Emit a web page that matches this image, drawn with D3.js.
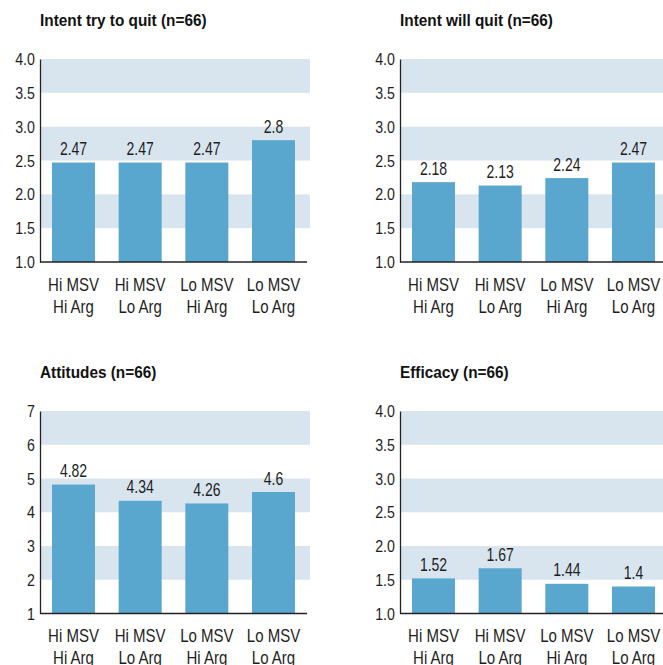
<!DOCTYPE html>
<html>
<head>
<meta charset="utf-8">
<script src="https://cdn.jsdelivr.net/npm/d3@7/dist/d3.min.js"></script>
<style>
  html, body { margin: 0; padding: 0; background: #fff; }
  svg { display: block; }
  text { font-family: "Liberation Sans", Arial, sans-serif; fill: #1e1e1e; }
  .title { font-weight: bold; font-size: 16.5px; fill: #111; }
</style>
</head>
<body>
<svg id="chart" width="663" height="665"></svg>
<script>
// Group labels (two lines each)
const groups = ["Hi MSV|Hi Arg", "Hi MSV|Lo Arg", "Lo MSV|Hi Arg", "Lo MSV|Lo Arg"];

// Panel titles
const titles = ["Intent try to quit (n=66)", "Intent will quit (n=66)", "Attitudes (n=66)", "Efficacy (n=66)"];

// Mean scores per group
const intentTry = [2.47, 2.47, 2.47, 2.8];
const intentWill = [2.18, 2.13, 2.24, 2.47];
const attitudes = [4.82, 4.34, 4.26, 4.6];
const efficacy = [1.52, 1.67, 1.44, 1.4];

// Axis ticks
const ticks4 = [1.0, 1.5, 2.0, 2.5, 3.0, 3.5, 4.0];
const ticks7 = [1, 2, 3, 4, 5, 6, 7];

// Shaded bands [from, to]
const bands4 = [[1.5, 2.0], [2.5, 3.0], [3.5, 4.0]];
const bands7 = [[2, 3], [4, 5], [6, 7]];

const panels = [
  { title: titles[0], values: intentTry, ticks: ticks4, bands: bands4, domain: [1, 4], fmt: ".1f", x0: 40, top: 59, bottom: 262, titleY: 26 },
  { title: titles[1], values: intentWill, ticks: ticks4, bands: bands4, domain: [1, 4], fmt: ".1f", x0: 400, top: 59, bottom: 262, titleY: 26 },
  { title: titles[2], values: attitudes, ticks: ticks7, bands: bands7, domain: [1, 7], fmt: "d", x0: 40, top: 411, bottom: 613.5, titleY: 378 },
  { title: titles[3], values: efficacy, ticks: ticks4, bands: bands4, domain: [1, 4], fmt: ".1f", x0: 400, top: 411, bottom: 613.5, titleY: 378 }
];

const svg = d3.select("#chart");
const barColor = "#59a6ce";
const bandColor = "#d8e4ee";
const plotW = 267;

// Condensed text: horizontal squeeze around the anchor point
function condensed(sel, x, y, sx) {
  return sel.attr("x", 0).attr("y", 0).attr("transform", `translate(${x},${y}) scale(${sx},1)`);
}

panels.forEach(p => {
  const g = svg.append("g");
  const x = d3.scaleBand().domain(groups).range([p.x0, p.x0 + plotW]).paddingInner(0.355).paddingOuter(0.18);
  const y = d3.scaleLinear().domain(p.domain).range([p.bottom, p.top]);

  // Title
  condensed(g.append("text").attr("class", "title").text(p.title), p.x0, p.titleY, 0.93);

  // Background bands
  g.selectAll("rect.band").data(p.bands).join("rect")
    .attr("class", "band")
    .attr("x", p.x0 + 1)
    .attr("width", plotW + 2)
    .attr("y", d => y(d[1]))
    .attr("height", d => y(d[0]) - y(d[1]))
    .attr("fill", bandColor);

  // Bars
  g.selectAll("rect.bar").data(p.values).join("rect")
    .attr("class", "bar")
    .attr("x", (d, i) => x(groups[i]))
    .attr("width", x.bandwidth())
    .attr("y", d => y(d))
    .attr("height", d => y(p.domain[0]) - y(d))
    .attr("fill", barColor);

  // Value labels
  p.values.forEach((d, i) => {
    const t = g.append("text")
      .attr("text-anchor", "middle")
      .style("font-size", "17.5px")
      .text(String(d));
    condensed(t, x(groups[i]) + x.bandwidth() / 2, y(d) - 7.5, 0.8);
  });

  // Y axis
  const yAxis = d3.axisLeft(y).tickValues(p.ticks).tickFormat(d3.format(p.fmt)).tickSize(0).tickPadding(6);
  const ya = g.append("g").attr("transform", `translate(${p.x0},0)`).call(yAxis);
  ya.attr("font-family", null).attr("font-size", null);
  ya.select(".domain").attr("stroke", "#222").attr("stroke-width", 1.3);
  ya.selectAll(".tick text")
    .style("font-size", "16.5px")
    .attr("fill", "#1e1e1e")
    .attr("dy", "0.34em")
    .attr("transform", "scale(0.86,1)");

  // Baseline
  g.append("line")
    .attr("x1", p.x0).attr("x2", p.x0 + plotW)
    .attr("y1", y(p.domain[0])).attr("y2", y(p.domain[0]))
    .attr("stroke", "#222").attr("stroke-width", 1.5);

  // Group labels, two lines
  groups.forEach(gname => {
    const cx = x(gname) + x.bandwidth() / 2;
    gname.split("|").forEach((ln, k) => {
      const t = g.append("text")
        .attr("text-anchor", "middle")
        .style("font-size", "19px")
        .text(ln);
      condensed(t, cx, p.bottom + 28.5 + k * 22, 0.79);
    });
  });
});
</script>
</body>
</html>
